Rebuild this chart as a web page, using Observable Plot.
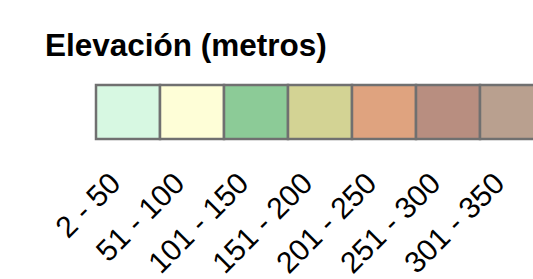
<!DOCTYPE html>
<html>
<head>
<meta charset="utf-8">
<script src="https://cdn.jsdelivr.net/npm/d3@7"></script>
<script src="https://cdn.jsdelivr.net/npm/@observablehq/plot@0.6"></script>
<style>
  html, body { margin: 0; padding: 0; background: #fff; width: 533px; height: 279px; overflow: hidden; }
  #title { font-family: "Liberation Sans", Arial, sans-serif; font-weight: bold; font-size: 31.5px; line-height: 30px; padding: 30px 0 0 45px; height: 30px; color: #000; white-space: nowrap; }
</style>
</head>
<body>
<div id="title">Elevación (metros)</div>
<div id="chart"></div>
<script>
const categories = ["2 - 50", "51 - 100", "101 - 150", "151 - 200", "201 - 250", "251 - 300", "301 - 350"];
const colors = ["#d7f8e2", "#fefed7", "#8ccb97", "#d3d394", "#dfa37f", "#b88e80", "#b9a08f"];

const data = categories.map((c, i) => ({range: c, color: colors[i]}));

const chart = Plot.plot({
  width: 533,
  height: 219,
  marginTop: 25,
  marginBottom: 140,
  marginLeft: 96,
  marginRight: 0,
  style: {fontFamily: "Liberation Sans, Arial, sans-serif", fontSize: "30px", color: "#000", background: "#fff", overflow: "visible"},
  x: {domain: categories, range: [96, 544], padding: 0, label: null},
  color: {type: "identity"},
  marks: [
    Plot.cell(data, {x: "range", fill: "color", stroke: "#707070", strokeWidth: 2.5}),
    Plot.axisX({tickRotate: -45, tickSize: 0, tickPadding: 39, dx: -13, fontSize: 30, label: null})
  ]
});
chart.style.maxWidth = "none";
document.getElementById("chart").appendChild(chart);
</script>
</body>
</html>
